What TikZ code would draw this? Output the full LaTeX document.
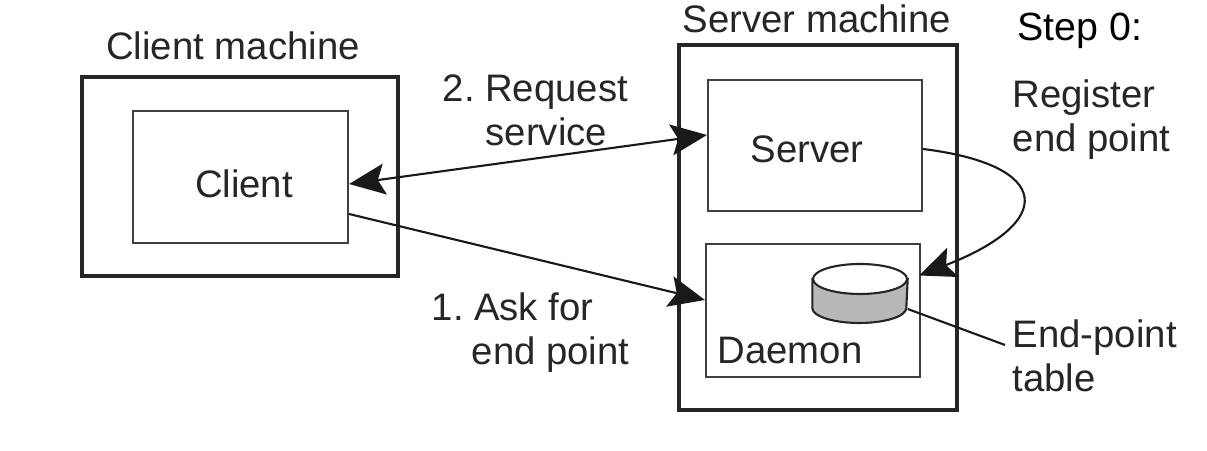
\documentclass[tikz,border=0pt]{standalone}
\usepackage{fontspec}
\setmainfont{Liberation Sans}
\usetikzlibrary{arrows.meta}
\frenchspacing
\tikzset{
  machine/.style={draw=black!85,line width=1.4pt},
  process/.style={draw=black!75,line width=0.6pt},
  msg/.style={black!90,line width=0.6pt},
  >={Stealth[length=0.36cm,width=0.31cm,inset=0.07cm]},
}
\begin{document}
\begin{tikzpicture}[every node/.style={font=\fontsize{10.9}{12.5}\selectfont,text=black!85,inner sep=0pt}]
\useasboundingbox (0,0) rectangle (12.07,4.51);
\node[machine,minimum width=3.16cm,minimum height=1.99cm] (clientm) at (2.40,2.745) {};
\node[process,minimum width=2.15cm,minimum height=1.32cm] (client) at (2.405,2.74) {};
\node[machine,minimum width=2.78cm,minimum height=3.65cm] (serverm) at (8.18,2.235) {};
\node[process,minimum width=2.14cm,minimum height=1.31cm] (server) at (8.15,3.055) {};
\node[process,minimum width=2.14cm,minimum height=1.33cm] (daemon) at (8.13,1.405) {};
\node[minimum width=0.94cm,minimum height=0.59cm] (table) at (8.60,1.575) {};
% disk drawn by hand
\draw[draw=black!85,line width=0.6pt,fill=black!28] (table.west|-0,1.72) -- (table.west|-0,1.43) arc[start angle=180,end angle=360,x radius=0.47,y radius=0.15] -- (table.east|-0,1.72) -- cycle;
\draw[draw=black!85,line width=0.6pt,fill=white] (8.60,1.72) ellipse[x radius=0.47,y radius=0.15];
\node[anchor=base] (clientmlabel) at (2.33,3.91) {Client machine};
\node[anchor=base] (servermlabel) at (8.17,4.18) {Server machine};
\node[anchor=base] (clientlabel) at (2.44,2.53) {Client};
\node[anchor=base] (serverlabel) at (8.07,2.88) {Server};
\node[anchor=base west] (daemonlabel) at (7.17,0.87) {Daemon};
\node[anchor=base west,text=black,font=\fontsize{11.2}{12.5}\selectfont] (steplabel) at (10.17,4.10) {Step 0:};
\node[anchor=west,align=left] (reqlabel) at (4.42,3.41) {2. Request\\\hspace*{0.43cm}service};
\node[anchor=west,align=left] (asklabel) at (4.31,1.18) {1. Ask for\\\hspace*{0.40cm}end point};
\node[anchor=west,align=left] (reglabel) at (10.12,3.31) {Register\\end point};
\node[anchor=west,align=left] (tablelabel) at (10.12,0.95) {End-point\\table};
\coordinate (tableend) at (10.05,1.06);
\draw[msg,<->] ([yshift=-0.07cm]client.east) -- ([yshift=0.105cm]server.west);
\draw[msg,->] ([yshift=-0.37cm]client.east) -- ([yshift=0.105cm]daemon.west);
\draw[msg,->] ([yshift=-0.035cm]server.east) .. controls (10.52,2.86) and (10.57,2.29) .. ([xshift=-0.02cm,yshift=0.35cm]daemon.east);
\draw[msg] ([yshift=-0.155cm]table.east) -- (tableend);
\end{tikzpicture}
\end{document}
